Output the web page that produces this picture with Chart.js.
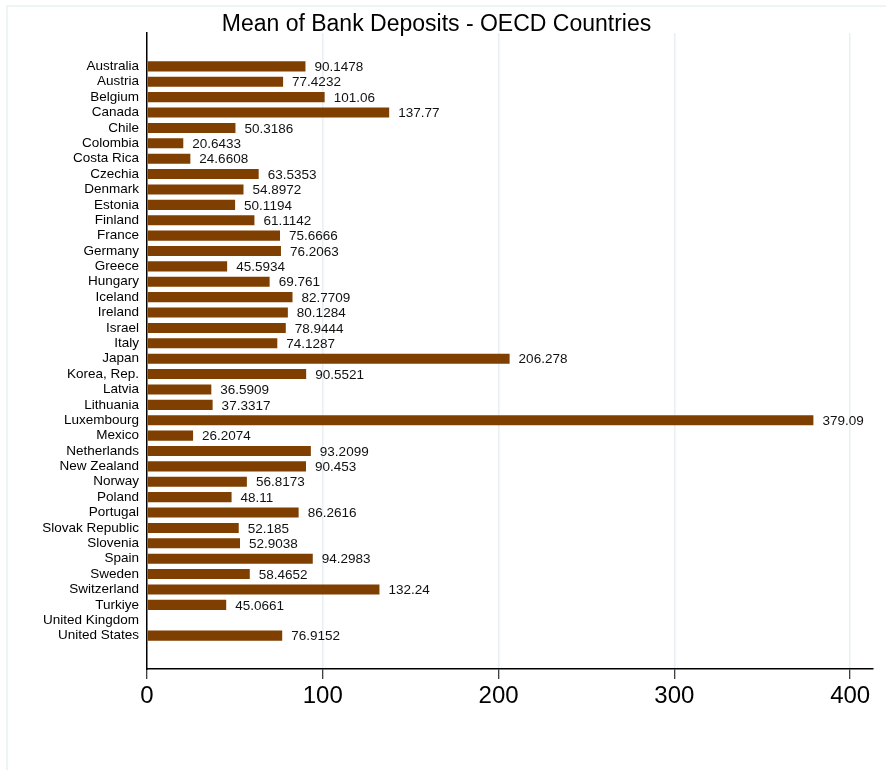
<!DOCTYPE html>
<html>
<head>
<meta charset="utf-8">
<script src="https://cdn.jsdelivr.net/npm/chart.js@4/dist/chart.umd.min.js"></script>
<style>
  html, body { margin: 0; padding: 0; background: #fff; overflow: hidden; }
  #frame { position: absolute; left: 6px; top: 5px; width: 900px; height: 800px;
           border-left: 2px solid #edf4f5; border-top: 2px solid #edf4f5; pointer-events: none; }
  canvas { position: absolute; left: 0; top: 0; }
</style>
</head>
<body>
<div id="frame"></div>
<canvas id="myChart" width="886" height="770"></canvas>
<script>
const countries = ['Australia', 'Austria', 'Belgium', 'Canada', 'Chile', 'Colombia', 'Costa Rica',
  'Czechia', 'Denmark', 'Estonia', 'Finland', 'France', 'Germany', 'Greece', 'Hungary', 'Iceland',
  'Ireland', 'Israel', 'Italy', 'Japan', 'Korea, Rep.', 'Latvia', 'Lithuania', 'Luxembourg', 'Mexico',
  'Netherlands', 'New Zealand', 'Norway', 'Poland', 'Portugal', 'Slovak Republic', 'Slovenia', 'Spain',
  'Sweden', 'Switzerland', 'Turkiye', 'United Kingdom', 'United States'];
const deposits = [90.1478, 77.4232, 101.06, 137.77, 50.3186, 20.6433, 24.6608,
  63.5353, 54.8972, 50.1194, 61.1142, 75.6666, 76.2063, 45.5934, 69.761, 82.7709,
  80.1284, 78.9444, 74.1287, 206.278, 90.5521, 36.5909, 37.3317, 379.09, 26.2074,
  93.2099, 90.453, 56.8173, 48.11, 86.2616, 52.185, 52.9038, 94.2983,
  58.4652, 132.24, 45.0661, null, 76.9152];
const xTicks = [0, 100, 200, 300, 400];

Chart.defaults.color = '#000';
Chart.defaults.font.family = "'Liberation Sans', Arial, sans-serif";

// value printed just right of each bar
const barLabels = {
  id: 'barLabels',
  afterDatasetsDraw(chart) {
    const ctx = chart.ctx;
    const meta = chart.getDatasetMeta(0);
    ctx.save();
    ctx.font = "13.5px 'Liberation Sans', Arial, sans-serif";
    ctx.fillStyle = '#111';
    ctx.textAlign = 'left';
    ctx.textBaseline = 'middle';
    meta.data.forEach(function(bar, i){
      if (deposits[i] == null) return;
      ctx.fillText(String(deposits[i]), bar.x + 9, bar.y + 1);
    });
    ctx.restore();
  }
};

const ctx = document.getElementById('myChart');
myChart = new Chart(ctx, {
  type: 'bar',
  data: {
    datasets: [{
      label: 'deposits',
      data: countries.map((c, i) => ({ x: deposits[i], y: i })),
      backgroundColor: '#7f3f00',
      borderWidth: 0,
      barPercentage: 0.8,
      categoryPercentage: 0.82
    }]
  },
  options: {
    indexAxis: 'y',
    responsive: false,
    animation: false,
    layout: { padding: { top: 0, right: 13, bottom: 0, left: 0 } },
    plugins: {
      legend: { display: false },
      tooltip: { enabled: false },
      title: {
        display: true,
        text: 'Mean of Bank Deposits - OECD Countries',
        font: { size: 23, weight: 'normal', lineHeight: 1 },
        color: '#000',
        padding: { top: 13, bottom: -3 }
      }
    },
    scales: {
      x: {
        type: 'linear',
        min: 0,
        max: 413,
        afterBuildTicks: s => { s.ticks = xTicks.map(v => ({ value: v })); },
        afterFit: s => { s.height = 101; },
        grid: {
          color: c => c.tick && c.tick.value === 0 ? 'rgba(0,0,0,0)' : '#e6eff1',
          lineWidth: 1.5,
          tickColor: '#000',
          tickLength: 10,
          tickWidth: 1
        },
        border: { display: true, color: '#000', width: 1.5 },
        ticks: {
          padding: 3,
          font: { size: 24 }
        }
      },
      y: {
        type: 'linear',
        offset: false,
        min: -2.17,
        max: 39.17,
        reverse: true,
        afterBuildTicks: s => { s.ticks = countries.map((c, i) => ({ value: i })); },
        afterFit: s => { s.width = 147; },
        grid: { display: false, drawTicks: false, offset: false },
        border: { display: true, color: '#000', width: 1.5 },
        ticks: {
          autoSkip: false,
          padding: 8,
          font: { size: 13.5 },
          callback: v => countries[v]
        }
      }
    }
  },
  plugins: [barLabels]
});
</script>
</body>
</html>
